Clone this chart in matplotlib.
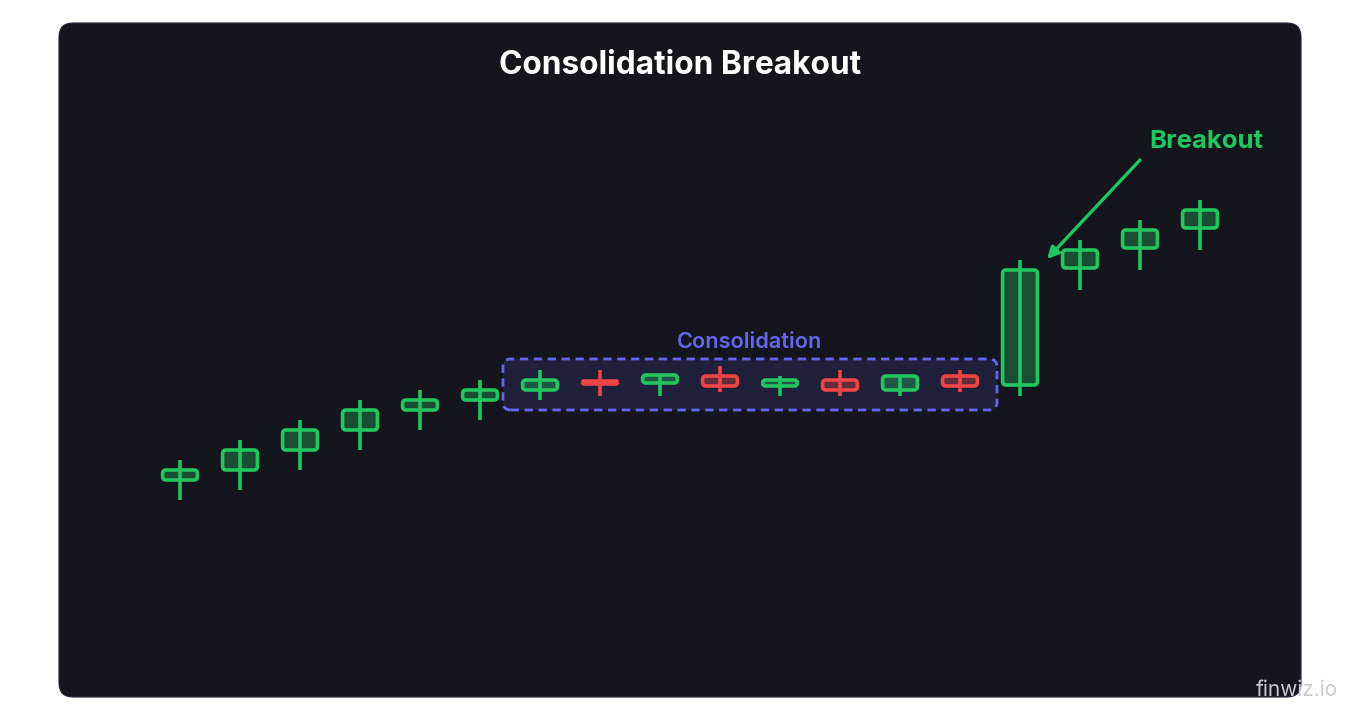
import matplotlib.pyplot as plt
import numpy as np
from matplotlib.patches import FancyBboxPatch

plt.rcParams['font.family'] = ['Inter', 'DejaVu Sans']

# --- Candle data (price units) ---
opens  = [52.0, 53.0, 55.0, 57.0, 59.0, 60.0, 61.0, 61.9, 61.7, 62.4, 61.4, 62.0, 61.0, 62.4, 61.5, 73.2, 75.2, 77.2]
closes = [53.0, 55.0, 57.0, 59.0, 60.0, 61.0, 62.0, 61.6, 62.5, 61.4, 62.0, 61.0, 62.4, 61.4, 73.0, 75.0, 77.0, 79.0]
highs  = [54.0, 56.0, 58.0, 60.0, 61.0, 62.0, 63.0, 63.0, 62.5, 63.4, 62.4, 63.0, 62.5, 63.0, 74.0, 76.0, 78.0, 80.0]
lows   = [50.0, 51.0, 53.0, 55.0, 57.0, 58.0, 60.0, 60.4, 60.4, 60.8, 60.4, 60.4, 60.4, 60.8, 60.4, 71.0, 73.0, 75.0]

consol_start, consol_end = 6, 13   # candle indices inside the consolidation box
breakout_idx = 14

title = "Consolidation Breakout"
consol_label = "Consolidation"
breakout_label = "Breakout"

# --- Colors ---
BG = "#15151e"
GREEN = "#22c55e"
RED = "#ef4444"
INDIGO = "#6366f1"

fig = plt.figure(figsize=(13.6, 7.2), dpi=100)
fig.patch.set_facecolor("white")

# background panel (pixel layout)
bg = fig.add_axes([0, 0, 1, 1])
bg.set_xlim(0, 1360)
bg.set_ylim(720, 0)
bg.axis("off")
bg.add_patch(FancyBboxPatch((59, 23), 1242, 674, boxstyle="round,pad=0,rounding_size=14",
                            facecolor=BG, edgecolor="#25233a", linewidth=0.8))
bg.text(680, 66, title, color="white", fontsize=22.8, fontweight="bold",
        ha="center", va="center")
bg.text(1338, 690, "finwiz.io", color="#cbc8d2", fontsize=15,
        ha="right", va="center")

# main chart axes
ax = fig.add_axes([0, 0, 1, 1])
ax.patch.set_alpha(0)
ax.set_xlim(-3, 19.667)
ax.set_ylim(28, 100)
ax.axis("off")

aspect = 6.0          # y-units per x-unit in screen space
w = 0.58
lw = 2.6
for i, (o, c, h, l) in enumerate(zip(opens, closes, highs, lows)):
    up = c >= o
    col = GREEN if up else RED
    bot, hgt = min(o, c), abs(c - o)
    ax.plot([i, i], [l, h], color=col, lw=lw, solid_capstyle="butt", zorder=3)
    r = min(0.06, hgt / aspect / 2)
    ax.add_patch(FancyBboxPatch((i - w / 2, bot), w, hgt,
                                boxstyle=f"round,pad=0,rounding_size={r}",
                                mutation_aspect=aspect, facecolor=col, alpha=0.33,
                                edgecolor="none", zorder=2))
    ax.add_patch(FancyBboxPatch((i - w / 2, bot), w, hgt,
                                boxstyle=f"round,pad=0,rounding_size={r}",
                                mutation_aspect=aspect, facecolor="none",
                                edgecolor=col, lw=lw, zorder=4))

# consolidation box
seg_lo = min(lows[consol_start:consol_end + 1]) - 1.0
seg_hi = max(highs[consol_start:consol_end + 1]) + 0.7
x0, x1 = consol_start - 0.617, consol_end + 0.617
ax.add_patch(FancyBboxPatch((x0, seg_lo), x1 - x0, seg_hi - seg_lo,
                            boxstyle="round,pad=0,rounding_size=0.13",
                            mutation_aspect=aspect, facecolor=INDIGO, alpha=0.14,
                            edgecolor="none", zorder=1))
ax.add_patch(FancyBboxPatch((x0, seg_lo), x1 - x0, seg_hi - seg_lo,
                            boxstyle="round,pad=0,rounding_size=0.13",
                            mutation_aspect=aspect, facecolor="none",
                            edgecolor=INDIGO, lw=2.0, linestyle=(0, (3, 2)), zorder=1))
ax.text((x0 + x1) / 2, seg_hi + 1.7, consol_label, color=INDIGO, fontsize=15.6,
        fontweight="semibold", ha="center", va="center")

# breakout arrow
ax.annotate("", xy=(breakout_idx + 0.45, highs[breakout_idx] + 0.1),
            xytext=(breakout_idx + 2.0, highs[breakout_idx] + 10.0),
            arrowprops=dict(arrowstyle="-|>", color=GREEN, lw=2.4, mutation_scale=17,
                            shrinkA=0, shrinkB=0))
ax.text(breakout_idx + 3.1, highs[breakout_idx] + 11.9, breakout_label, color=GREEN,
        fontsize=18.5, fontweight="bold", ha="center", va="center")

fig.savefig("out.png", dpi=100, facecolor="white")
